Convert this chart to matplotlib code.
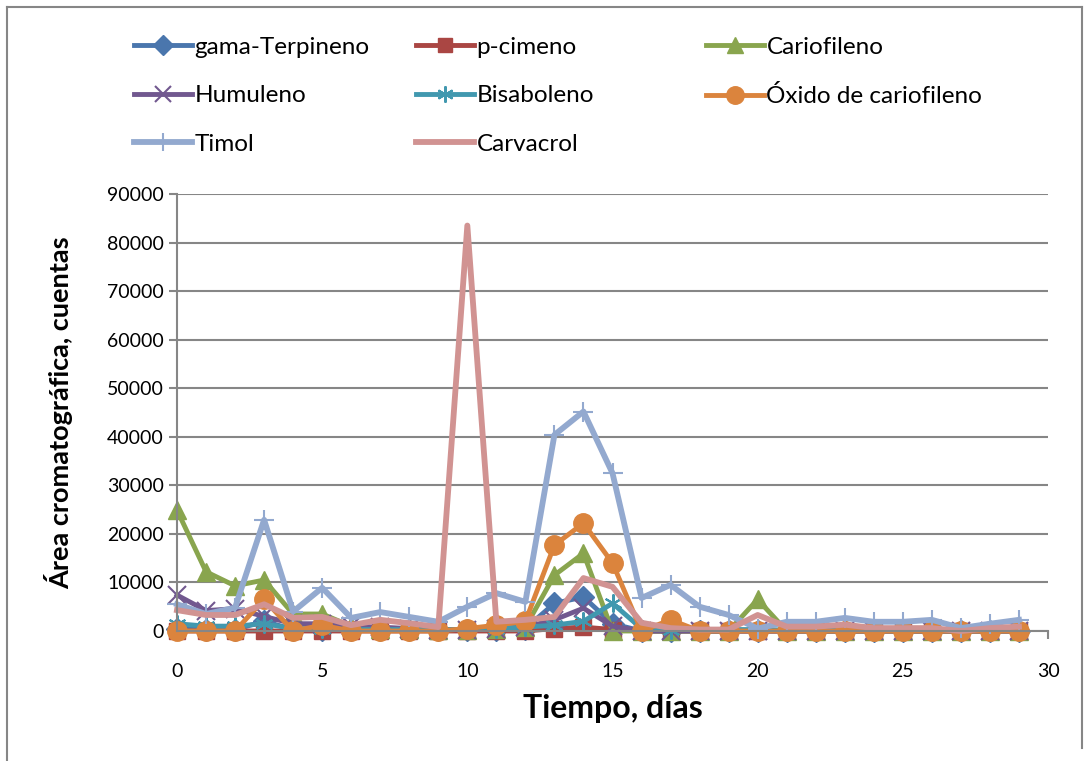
import matplotlib
matplotlib.use('Agg')
import matplotlib.pyplot as plt
from matplotlib.lines import Line2D

dias = list(range(30))

gama_terpineno = [500, 300, 300, 2000, 300, 300, 200, 200, 200, 200, 200, 300, 500, 5700, 7000, 1500,
                  0, 0, 0, 0, 0, 0, 0, 0, 0, 0, 0, 0, 0, 0]
p_cimeno = [0, 0, 0, 0, 0, 0, 0, 0, 0, 0, 0, 0, 0, 500, 800, 300,
            0, 0, 0, 0, 0, 0, 0, 0, 0, 0, 0, 0, 0, 0]
cariofileno = [24900, 12200, 9300, 10500, 3500, 3500, 1000, 500, 500, 300, 300, 500, 800, 11500, 16000, 0,
               0, 0, 0, 0, 6500, 0, 0, 0, 0, 0, 0, 0, 0, 0]
humuleno = [7400, 4200, 4600, 3000, 1500, 1500, 1000, 800, 500, 300, 300, 500, 800, 2300, 4700, 1000,
            0, 0, 0, 0, 0, 0, 0, 0, 0, 0, 0, 0, 0, 0]
bisaboleno = [1500, 1000, 1000, 1500, 500, 500, 300, 300, 300, 300, 300, 500, 800, 1200, 2000, 5700,
              500, 300, 300, 300, 300, 200, 200, 200, 200, 200, 200, 200, 200, 200]
oxido_cariofileno = [0, 0, 0, 6500, 0, 1200, 0, 0, 0, 0, 500, 1200, 2000, 17700, 22200, 14000,
                     0, 2300, 0, 0, 0, 0, 0, 0, 0, 0, 0, 0, 0, 0]
timol = [5500, 3500, 4800, 22900, 4000, 8900, 2700, 3900, 2900, 1900, 5000, 7800, 6000, 40400, 45200, 32500,
         6800, 9500, 5000, 3300, 500, 1900, 1900, 2700, 1900, 1900, 2300, 600, 1500, 2300]
carvacrol = [4300, 3300, 3300, 5500, 2700, 2900, 1200, 2300, 1600, 800, 83500, 1900, 2300, 2900, 10900, 9100,
             1700, 600, 300, 300, 3300, 900, 900, 1300, 600, 600, 600, 0, 600, 900]

nombres = ['gama-Terpineno', 'p-cimeno', 'Cariofileno', 'Humuleno', 'Bisaboleno',
           'Óxido de cariofileno', 'Timol', 'Carvacrol']

plt.rcParams['font.family'] = ['Lato', 'DejaVu Sans']

fig = plt.figure(figsize=(10.89, 7.61), dpi=100)
ax = fig.add_axes([177 / 1089, 1 - 631 / 761, (1048 - 177) / 1089, (631 - 194) / 761])

# (values, colour, marker, marker size, line width, marker edge width)
series = [
    (gama_terpineno, '#4A76AD', 'D', 11, 3.5, 1),
    (p_cimeno, '#AA4643', 's', 11, 3.5, 1),
    (cariofileno, '#89A54E', '^', 13, 3.5, 1),
    (humuleno, '#71588F', 'x', 13, 3.5, 1.5),
    (bisaboleno, '#4198AF', (6, 2, 0), 13, 3.5, 1.5),
    (oxido_cariofileno, '#DB843D', 'o', 14, 3.5, 1),
    (timol, '#93A9CF', '+', 15, 4.2, 1.5),
    (carvacrol, '#D19392', None, 0, 4.2, 1),
]

handles = []
for (vals, color, mk, ms, lw, mew), nombre in zip(series, nombres):
    ln, = ax.plot(dias, vals, color=color, lw=lw, marker=mk, ms=ms, mew=mew,
                  mec=color, mfc=color, label=nombre, clip_on=False)
    handles.append(ln)

ax.set_xlim(0, 30)
ax.set_ylim(0, 90000)
ax.set_xticks(range(0, 31, 5))
ax.set_yticks(range(0, 90001, 10000))
ax.grid(axis='y', color='#868686', lw=1.5)
ax.set_axisbelow(True)
for s in ['top', 'right']:
    ax.spines[s].set_visible(False)
for s in ['left', 'bottom']:
    ax.spines[s].set_color('#868686')
    ax.spines[s].set_linewidth(1.5)
ax.tick_params(axis='both', colors='#868686', labelcolor='black', labelsize=14,
               length=6, width=1.5)
ax.tick_params(axis='x', pad=17)
ax.set_xlabel('Tiempo, días', fontsize=23, fontweight='bold', labelpad=10)
ax.set_ylabel('Área cromatográfica, cuentas', fontsize=19.5, fontweight='bold', labelpad=24)

# legend: three columns placed like the Excel legend
col_x = [124, 406, 696]
cols = [[0, 3, 6], [1, 4, 7], [2, 5]]
for x0, idx in zip(col_x, cols):
    fig.legend([handles[i] for i in idx], [nombres[i] for i in idx],
               loc='upper left', bbox_to_anchor=(x0 / 1089, 1 - 27 / 761),
               frameon=False, fontsize=17.5, handlelength=2.4, handletextpad=0.1,
               labelspacing=1.13, borderaxespad=0, markerscale=0.9)

# chart area border
fig.add_artist(Line2D([7 / 1089, 7 / 1089], [0, 1 - 7 / 761], transform=fig.transFigure, color='#868686', lw=1.5))
fig.add_artist(Line2D([7 / 1089, 1082 / 1089], [1 - 7 / 761, 1 - 7 / 761], transform=fig.transFigure, color='#868686', lw=1.5))
fig.add_artist(Line2D([1082 / 1089, 1082 / 1089], [1 - 7 / 761, 1 - 748 / 761], transform=fig.transFigure, color='#868686', lw=1.5))

fig.savefig('out.png', dpi=100)
